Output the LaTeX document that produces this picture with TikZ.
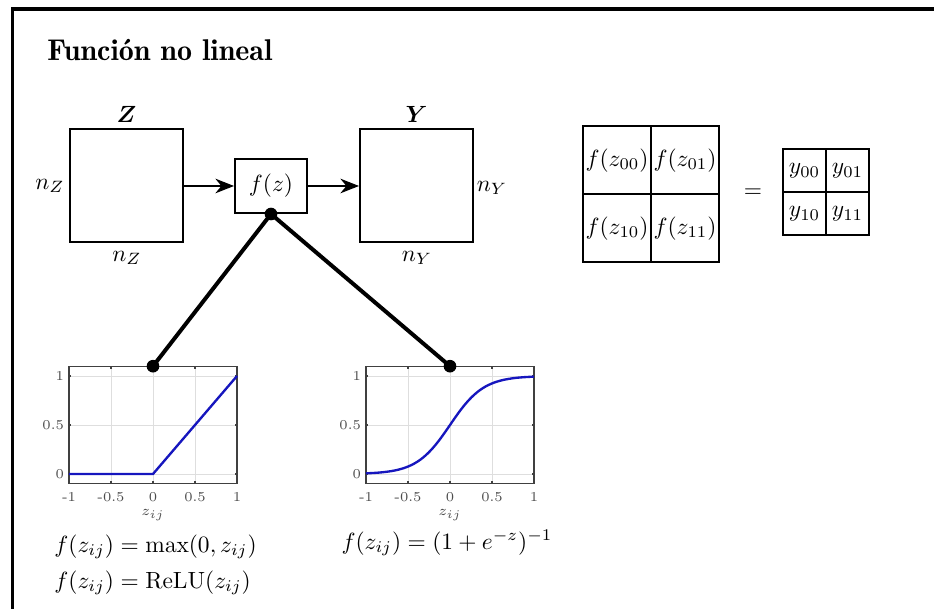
\documentclass[tikz,border=0pt]{standalone}
\usepackage{amsmath}
\usepackage{bm}
\usetikzlibrary{arrows.meta,positioning,calc}
\definecolor{plotblue}{RGB}{22,22,190}
\tikzset{
  mat/.style={draw=black, line width=0.85pt, minimum width=16.95mm, minimum height=16.95mm, inner sep=0pt},
  fbox/.style={draw=black, line width=0.85pt, minimum width=10.8mm, minimum height=8.1mm, inner sep=0pt},
  bigcell/.style={draw=black, line width=0.85pt, minimum size=10.2mm, inner sep=0pt},
  smallcell/.style={draw=black, line width=0.85pt, minimum size=6.45mm, inner sep=0pt},
  arrow/.style={-{Stealth[length=2.8mm,width=2.2mm]}, line width=0.45pt},
  link/.style={line width=1.7pt},
  dot/.style={circle, fill=black, minimum size=1.9mm, inner sep=0pt},
  frameline/.style={line width=1.3pt},
  tick/.style={font=\fontsize{5.8}{7}\selectfont, text=black!70, inner sep=1pt},
  gridline/.style={black!13, line width=0.3pt},
  axisline/.style={black!75, line width=0.5pt},
  curve/.style={plotblue, line width=1pt},
  plotaxes/.pic={
    \foreach \t in {-0.5,0,0.5} \draw[gridline] (\t,-0.1) -- (\t,1.1);
    \foreach \t in {0,0.5,1} \draw[gridline] (-1,\t) -- (1,\t);
    \foreach \t in {-0.5,0,0.5} {
      \draw[axisline] (\t,-0.1) -- ++(0,0.025);
      \draw[axisline] (\t,1.1) -- ++(0,-0.025);
    }
    \foreach \t in {0,0.5,1} {
      \draw[axisline] (-1,\t) -- ++(0.02,0);
      \draw[axisline] (1,\t) -- ++(-0.02,0);
    }
    \draw[axisline] (-1,-0.1) rectangle (1,1.1);
    \foreach \t in {-1,-0.5,0,0.5,1} \node[tick, below=2.5pt] at (\t,-0.1) {\t};
    \foreach \t in {0,0.5,1} \node[tick, left=1pt] at (-1,\t) {\t};
    \node[tick] at (0,-0.42) {$z_{ij}$};
  }
}
\begin{document}
\begin{tikzpicture}[x=0.15mm, y=-0.15mm]
\useasboundingbox (0,0) rectangle (934,609);
% frame and title
\draw[frameline] (12.5,609) -- (12.5,9) -- (934,9);
\node[anchor=base west, font=\fontsize{12.8}{15}\fontseries{b}\selectfont, inner sep=0pt] (title) at (47,61) {Función no lineal};
% input, function, output
\node[mat] (matZ) at (126.5,186) {};
\node[fbox] (fz) at (271,186) {$f(z)$};
\node[mat] (matY) at (416.5,186) {};
\node (labZ) at (126.5,114) {$\bm{Z}$};
\node (labY) at (416.5,114) {$\bm{Y}$};
\node (nZl) at (50,186) {$n_Z$};
\node (nZb) at (127,258) {$n_Z$};
\node (nYr) at (492,188) {$n_Y$};
\node (nYb) at (417,258) {$n_Y$};
\draw[arrow] (matZ) -- (fz);
\draw[arrow] (fz) -- (matY);
% element-wise result
\node[bigcell] (c00) at (617,160.5) {$f(z_{00})$};
\node[bigcell] (c01) at (685,160.5) {$f(z_{01})$};
\node[bigcell] (c10) at (617,228.5) {$f(z_{10})$};
\node[bigcell] (c11) at (685,228.5) {$f(z_{11})$};
\node (eq) at (753,193) {$=$};
\node[smallcell] (y00) at (804.5,171) {$y_{00}$};
\node[smallcell] (y01) at (847.5,171) {$y_{01}$};
\node[smallcell] (y10) at (804.5,214) {$y_{10}$};
\node[smallcell] (y11) at (847.5,214) {$y_{11}$};
% ReLU
\begin{scope}[shift={(153,474)}, x=12.6mm, y=14.7mm]
  \pic {plotaxes};
  \draw[curve] (-1,0) -- (0,0) -- (1,1);
  \coordinate (relutop) at (0,1.1);
\end{scope}
% sigmoid
\begin{scope}[shift={(450,474)}, x=12.6mm, y=14.7mm]
  \pic {plotaxes};
  \draw[curve] plot[domain=-1:1, samples=60, smooth] (\x,{1/(1+exp(-5*\x))});
  \coordinate (sigtop) at (0,1.1);
\end{scope}
\node[dot] (dotf) at (fz.south) {};
\node[dot] (dotr) at (relutop) {};
\node[dot] (dots) at (sigtop) {};
\draw[link] (dotf.center) -- (dotr.center);
\draw[link] (dotf.center) -- (dots.center);
% formulas
\node[anchor=west, inner sep=0pt] (relueq) at (54,547) {$f(z_{ij}) = \max(0, z_{ij})$};
\node[anchor=west, inner sep=0pt] (relueq2) at (54,583) {$f(z_{ij}) = \mathrm{ReLU}(z_{ij})$};
\node (sigeq) at (447,543) {$f(z_{ij}) = (1+e^{-z})^{-1}$};
\end{tikzpicture}
\end{document}
